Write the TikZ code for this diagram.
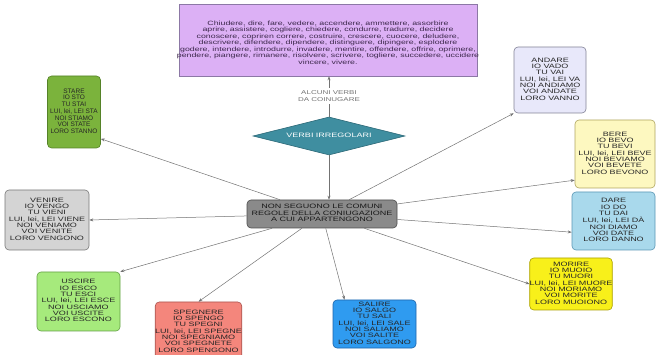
\documentclass[tikz,border=0pt]{standalone}
\usepackage{fontspec}
\setmainfont{Liberation Sans}
\usepackage{graphicx}
\usetikzlibrary{arrows.meta,shapes.geometric}

% squashed multi-line text
\newcommand{\sq}[2][0.7]{\scalebox{1}[#1]{\begin{tabular}{@{}c@{}}#2\end{tabular}}}

\begin{document}
\begin{tikzpicture}[
  x=1pt, y=-1pt,
  verbbox/.style={
    draw,
    rounded corners=4pt,
    inner sep=0pt,
    line width=0.6pt,
    text=black!85,
    font=\fontsize{9}{9}\selectfont
  },
  conn/.style={-{Stealth[length=4pt,width=3pt]}, draw=black!55, line width=0.5pt}
]
\useasboundingbox (0,0) rectangle (656,355);

\node[verbbox, rounded corners=0pt, fill={rgb,255:red,220;green,176;blue,245}, draw={rgb,255:red,140;green,120;blue,165},
  minimum width=298pt, minimum height=72pt] (lista) at (328,40) {};
\node[text={rgb,255:red,60;green,40;blue,75}, inner sep=0pt,
  font=\fontsize{8.8}{9.2}\selectfont] (listatesto) at ([yshift=-3.5pt]lista.center)
  {\sq{Chiudere, dire, fare, vedere, accendere, ammettere, assorbire\\
  aprire, assistere, cogliere, chiedere, condurre, tradurre, decidere\\
  conoscere, copriren correre, costruire, crescere, cuocere, deludere,\\
  descrivere, difendere, dipendere, distinguere, dipingere, esplodere\\
  godere, intendere, introdurre, invadere, mentire, offendere, offrire, oprimere,\\
  pendere, piangere, rimanere, risolvere, scrivere, togliere, succedere, uccidere\\
  vincere, vivere.}};

\node[diamond, aspect=4, draw={rgb,255:red,45;green,105;blue,120}, fill={rgb,255:red,63;green,142;blue,160},
  minimum width=152pt, minimum height=38pt, inner sep=0pt, line width=0.6pt, text=white,
  font=\fontsize{9}{9}\selectfont] (irreg) at (329,136) {\sq{VERBI IRREGOLARI}};

\node[verbbox, fill={rgb,255:red,138;green,138;blue,138}, draw=black!70,
  minimum width=150pt, minimum height=28pt, text=black!90] (regole) at (322,214)
  {\sq{NON SEGUONO LE COMUNI\\REGOLE DELLA CONIUGAZIONE\\A CUI APPARTENGONO}};

\node[verbbox, fill={rgb,255:red,123;green,179;blue,60}, draw={rgb,255:red,85;green,130;blue,40},
  minimum width=53pt, minimum height=72pt, font=\fontsize{6.5}{6.7}\selectfont] (stare) at (74,112)
  {\sq[1]{STARE\\IO STO\\TU STAI\\LUI, lei, LEI STA\\NOI STIAMO\\VOI STATE\\LORO STANNO}};

\node[verbbox, fill={rgb,255:red,232;green,232;blue,250}, draw={rgb,255:red,130;green,130;blue,150},
  minimum width=72pt, minimum height=66pt] (andare) at (550,80)
  {\sq{ANDARE\\IO VADO\\TU VAI\\LUI, lei, LEI VA\\NOI ANDIAMO\\VOI ANDATE\\LORO VANNO}};

\node[verbbox, fill={rgb,255:red,253;green,248;blue,192}, draw={rgb,255:red,175;green,165;blue,95},
  minimum width=80pt, minimum height=68pt] (bere) at (615,154)
  {\sq{BERE\\IO BEVO\\TU BEVI\\LUI, lei, LEI BEVE\\NOI BEVIAMO\\VOI BEVETE\\LORO BEVONO}};

\node[verbbox, fill={rgb,255:red,169;green,217;blue,236}, draw={rgb,255:red,90;green,150;blue,180},
  minimum width=83pt, minimum height=58pt] (dare) at (613.5,221)
  {\sq{DARE\\IO DO\\TU DAI\\LUI, lei, LEI DÀ\\NOI DIAMO\\VOI DATE\\LORO DANNO}};

\node[verbbox, fill={rgb,255:red,212;green,212;blue,212}, draw={rgb,255:red,120;green,120;blue,120},
  minimum width=84pt, minimum height=60pt] (venire) at (47,220)
  {\sq{VENIRE\\IO VENGO\\TU VIENI\\LUI, lei, LEI VIENE\\NOI VENIAMO\\VOI VENITE\\LORO VENGONO}};

\node[verbbox, fill={rgb,255:red,166;green,234;blue,124}, draw={rgb,255:red,100;green,160;blue,70},
  minimum width=83pt, minimum height=59pt] (uscire) at (78.5,301.5)
  {\sq{USCIRE\\IO ESCO\\TU ESCI\\LUI, lei, LEI ESCE\\NOI USCIAMO\\VOI USCITE\\LORO ESCONO}};

\node[verbbox, fill={rgb,255:red,244;green,134;blue,124}, draw={rgb,255:red,170;green,85;blue,80},
  minimum width=83pt, minimum height=60pt] (spegnere) at (198.5,332)
  {\sq{SPEGNERE\\IO SPENGO\\TU SPEGNI\\LUI, lei, LEI SPEGNE\\NOI SPEGNIAMO\\VOI SPEGNETE\\LORO SPENGONO}};

\node[verbbox, fill={rgb,255:red,47;green,155;blue,240}, draw={rgb,255:red,30;green,100;blue,170},
  minimum width=83pt, minimum height=48pt] (salire) at (374.5,324)
  {\sq{SALIRE\\IO SALGO\\TU SALI\\LUI, lei, LEI SALE\\NOI SALIAMO\\VOI SALITE\\LORO SALGONO}};

\node[verbbox, fill={rgb,255:red,248;green,240;blue,26}, draw={rgb,255:red,170;green,160;blue,0},
  minimum width=82pt, minimum height=52pt] (morire) at (571,284)
  {\sq{MORIRE\\IO MUOIO\\TU MUORI\\LUI, lei, LEI MUORE\\NOI MORIAMO\\VOI MORITE\\LORO MUOIONO}};

\draw[conn] (irreg.north) -- node[fill=white, text=black!55, inner sep=1pt,
  font=\fontsize{8}{10}\selectfont] {\sq{ALCUNI VERBI\\DA COINUGARE}} (irreg.north |- lista.south);
\draw[conn] (irreg.south) -- (irreg.south |- regole.north);

\draw[conn] (regole) -- (stare.-45);
\draw[conn] (regole) -- (andare.south west);
\draw[conn] (regole) -- (bere.213);
\draw[conn] (regole) -- (dare.195);
\draw[conn] (regole) -- (morire.west);
\draw[conn] (regole) -- (salire.141);
\draw[conn] (regole) -- (spegnere.north);
\draw[conn] (regole) -- (uscire.north east);
\draw[conn] (regole) -- (venire.east);
\end{tikzpicture}
\end{document}
